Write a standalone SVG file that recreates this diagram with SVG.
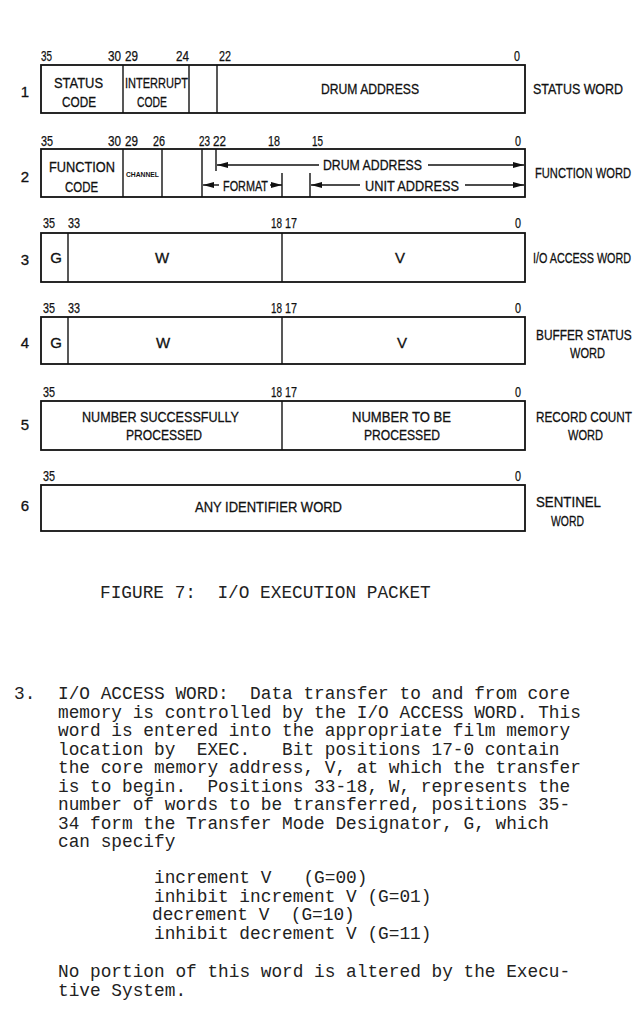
<svg xmlns="http://www.w3.org/2000/svg" width="643" height="1031" viewBox="0 0 643 1031">
<style>
.bg{fill:#fff}
.box{fill:none;stroke:#111;stroke-width:1.8}
.div{stroke:#111;stroke-width:1.4}
.lbl{font-family:"Liberation Sans Narrow","Liberation Sans",Arial,sans-serif;font-size:15px;fill:#111;stroke:#111;stroke-width:0.3}
.num{font-family:"Liberation Sans Narrow","Liberation Sans",Arial,sans-serif;font-size:14px;fill:#111;stroke:#111;stroke-width:0.25}
.mid{text-anchor:middle}
.tiny{font-family:"Liberation Sans",Arial,sans-serif;font-size:7px;font-weight:bold;fill:#111}
.tw{font-family:"Liberation Mono","DejaVu Sans Mono",monospace;font-size:17.8px;fill:#222;white-space:pre}
.arr{stroke:#111;stroke-width:1.4;fill:none;marker-end:url(#ah)}
</style>
<defs>
<marker id="ah" viewBox="0 0 11 6" refX="11" refY="3" markerWidth="11" markerHeight="6" markerUnits="userSpaceOnUse" orient="auto"><path d="M0,0 L11,3 L0,6 z" fill="#111"/></marker>
</defs>
<rect class="bg" x="0" y="0" width="643" height="1031"/>

<g id="row1">
<rect class="box" x="41" y="65" width="484" height="48"/>
<line class="div" x1="123" y1="65" x2="123" y2="113"/>
<line class="div" x1="189" y1="65" x2="189" y2="113"/>
<line class="div" x1="217" y1="65" x2="217" y2="113"/>
<text class="num" x="41" y="61" textLength="11" lengthAdjust="spacingAndGlyphs">35</text>
<text class="num" x="108" y="61" textLength="13" lengthAdjust="spacingAndGlyphs">30</text>
<text class="num" x="125" y="61" textLength="13" lengthAdjust="spacingAndGlyphs">29</text>
<text class="num" x="176" y="61" textLength="13" lengthAdjust="spacingAndGlyphs">24</text>
<text class="num" x="219" y="61" textLength="12" lengthAdjust="spacingAndGlyphs">22</text>
<text class="num" x="514" y="61" textLength="6" lengthAdjust="spacingAndGlyphs">0</text>
<text class="lbl mid" x="25" y="97">1</text>
<text class="lbl" x="54" y="88" textLength="49" lengthAdjust="spacingAndGlyphs">STATUS</text>
<text class="lbl" x="62" y="107" textLength="34" lengthAdjust="spacingAndGlyphs">CODE</text>
<text class="lbl" x="125" y="88" textLength="63" lengthAdjust="spacingAndGlyphs">INTERRUPT</text>
<text class="lbl" x="137" y="107" textLength="30" lengthAdjust="spacingAndGlyphs">CODE</text>
<text class="lbl" x="321" y="94" textLength="98" lengthAdjust="spacingAndGlyphs">DRUM ADDRESS</text>
<text class="lbl" x="533" y="94" textLength="90" lengthAdjust="spacingAndGlyphs">STATUS WORD</text>
</g>

<g id="row2">
<rect class="box" x="41" y="149" width="484" height="48"/>
<line class="div" x1="123" y1="149" x2="123" y2="197"/>
<line class="div" x1="162" y1="149" x2="162" y2="197"/>
<line class="div" x1="202" y1="149" x2="202" y2="197"/>
<line class="div" x1="216" y1="149" x2="216" y2="171"/>
<line class="div" x1="282" y1="173" x2="282" y2="197"/>
<line class="div" x1="310" y1="173" x2="310" y2="197"/>
<text class="num" x="41" y="146" textLength="12" lengthAdjust="spacingAndGlyphs">35</text>
<text class="num" x="108" y="146" textLength="13" lengthAdjust="spacingAndGlyphs">30</text>
<text class="num" x="125" y="146" textLength="13" lengthAdjust="spacingAndGlyphs">29</text>
<text class="num" x="153" y="146" textLength="12" lengthAdjust="spacingAndGlyphs">26</text>
<text class="num" x="199" y="146" textLength="11" lengthAdjust="spacingAndGlyphs">23</text>
<text class="num" x="213" y="146" textLength="13" lengthAdjust="spacingAndGlyphs">22</text>
<text class="num" x="268" y="146" textLength="12" lengthAdjust="spacingAndGlyphs">18</text>
<text class="num" x="312" y="146" textLength="11" lengthAdjust="spacingAndGlyphs">15</text>
<text class="num" x="515" y="146" textLength="6" lengthAdjust="spacingAndGlyphs">0</text>
<text class="lbl mid" x="25" y="182">2</text>
<text class="lbl" x="49" y="172" textLength="66" lengthAdjust="spacingAndGlyphs">FUNCTION</text>
<text class="lbl" x="65" y="192" textLength="33" lengthAdjust="spacingAndGlyphs">CODE</text>
<text class="tiny" x="126" y="177" textLength="33" lengthAdjust="spacingAndGlyphs">CHANNEL</text>
<text class="lbl" x="323" y="170" textLength="99" lengthAdjust="spacingAndGlyphs">DRUM ADDRESS</text>
<text class="lbl" x="223" y="191" textLength="45" lengthAdjust="spacingAndGlyphs">FORMAT</text>
<text class="lbl" x="365" y="191" textLength="94" lengthAdjust="spacingAndGlyphs">UNIT ADDRESS</text>
<text class="lbl" transform="translate(535,178) scale(0.75,1)" x="0" y="0" textLength="128" lengthAdjust="spacingAndGlyphs">FUNCTION WORD</text>
</g>

<g id="connectors">
<line class="arr" x1="319" y1="165" x2="217" y2="165"/>
<line class="arr" x1="428" y1="165" x2="524" y2="165"/>
<line class="arr" x1="219" y1="185" x2="203" y2="185"/>
<line class="arr" x1="270" y1="185" x2="282" y2="185"/>
<line class="arr" x1="360" y1="185" x2="311" y2="185"/>
<line class="arr" x1="465" y1="185" x2="524" y2="185"/>
</g>

<g id="row3">
<rect class="box" x="41" y="233" width="484" height="49"/>
<line class="div" x1="68" y1="233" x2="68" y2="282"/>
<line class="div" x1="282" y1="233" x2="282" y2="282"/>
<text class="num" x="43" y="228" textLength="12" lengthAdjust="spacingAndGlyphs">35</text>
<text class="num" x="68" y="228" textLength="12" lengthAdjust="spacingAndGlyphs">33</text>
<text class="num" x="271" y="228" textLength="11" lengthAdjust="spacingAndGlyphs">18</text>
<text class="num" x="285" y="228" textLength="12" lengthAdjust="spacingAndGlyphs">17</text>
<text class="num" x="515" y="228" textLength="6" lengthAdjust="spacingAndGlyphs">0</text>
<text class="lbl mid" x="25" y="265">3</text>
<text class="lbl mid" x="56" y="263">G</text>
<text class="lbl mid" x="162" y="263">W</text>
<text class="lbl mid" x="400" y="263">V</text>
<text class="lbl" transform="translate(533,263) scale(0.72,1)" x="0" y="0" textLength="136" lengthAdjust="spacingAndGlyphs">I/O ACCESS WORD</text>
</g>

<g id="row4">
<rect class="box" x="41" y="317" width="484" height="47"/>
<line class="div" x1="68" y1="317" x2="68" y2="364"/>
<line class="div" x1="282" y1="317" x2="282" y2="364"/>
<text class="num" x="43" y="313" textLength="12" lengthAdjust="spacingAndGlyphs">35</text>
<text class="num" x="68" y="313" textLength="12" lengthAdjust="spacingAndGlyphs">33</text>
<text class="num" x="271" y="313" textLength="11" lengthAdjust="spacingAndGlyphs">18</text>
<text class="num" x="285" y="313" textLength="12" lengthAdjust="spacingAndGlyphs">17</text>
<text class="num" x="515" y="313" textLength="6" lengthAdjust="spacingAndGlyphs">0</text>
<text class="lbl mid" x="25" y="348">4</text>
<text class="lbl mid" x="56" y="348">G</text>
<text class="lbl mid" x="163" y="348">W</text>
<text class="lbl mid" x="402" y="348">V</text>
<text class="lbl" transform="translate(536,340) scale(0.76,1)" x="0" y="0" textLength="126" lengthAdjust="spacingAndGlyphs">BUFFER STATUS</text>
<text class="lbl" x="570" y="358" textLength="35" lengthAdjust="spacingAndGlyphs">WORD</text>
</g>

<g id="row5">
<rect class="box" x="41" y="401" width="484" height="49"/>
<line class="div" x1="282" y1="401" x2="282" y2="450"/>
<text class="num" x="43" y="397" textLength="12" lengthAdjust="spacingAndGlyphs">35</text>
<text class="num" x="271" y="397" textLength="11" lengthAdjust="spacingAndGlyphs">18</text>
<text class="num" x="285" y="397" textLength="12" lengthAdjust="spacingAndGlyphs">17</text>
<text class="num" x="515" y="397" textLength="6" lengthAdjust="spacingAndGlyphs">0</text>
<text class="lbl mid" x="25" y="430">5</text>
<text class="lbl" x="82" y="422" textLength="157" lengthAdjust="spacingAndGlyphs">NUMBER SUCCESSFULLY</text>
<text class="lbl" x="126" y="440" textLength="76" lengthAdjust="spacingAndGlyphs">PROCESSED</text>
<text class="lbl" x="352" y="422" textLength="99" lengthAdjust="spacingAndGlyphs">NUMBER TO BE</text>
<text class="lbl" x="364" y="440" textLength="76" lengthAdjust="spacingAndGlyphs">PROCESSED</text>
<text class="lbl" transform="translate(536,422) scale(0.78,1)" x="0" y="0" textLength="123" lengthAdjust="spacingAndGlyphs">RECORD COUNT</text>
<text class="lbl" x="568" y="440" textLength="35" lengthAdjust="spacingAndGlyphs">WORD</text>
</g>

<g id="row6">
<rect class="box" x="41" y="485" width="484" height="46"/>
<text class="num" x="43" y="481" textLength="12" lengthAdjust="spacingAndGlyphs">35</text>
<text class="num" x="515" y="481" textLength="6" lengthAdjust="spacingAndGlyphs">0</text>
<text class="lbl mid" x="25" y="511">6</text>
<text class="lbl" x="195" y="512" textLength="147" lengthAdjust="spacingAndGlyphs">ANY IDENTIFIER WORD</text>
<text class="lbl" x="536" y="507" textLength="65" lengthAdjust="spacingAndGlyphs">SENTINEL</text>
<text class="lbl" x="551" y="526" textLength="33" lengthAdjust="spacingAndGlyphs">WORD</text>
</g>

<g id="caption">
<text class="tw" x="100" y="598" xml:space="preserve">FIGURE 7:  I/O EXECUTION PACKET</text>
</g>

<g id="paragraph" xml:space="preserve">
<text class="tw" x="14" y="699">3.</text>
<text class="tw" x="58" y="699">I/O ACCESS WORD:  Data transfer to and from core</text>
<text class="tw" x="58" y="717.5">memory is controlled by the I/O ACCESS WORD. This</text>
<text class="tw" x="58" y="736">word is entered into the appropriate film memory</text>
<text class="tw" x="58" y="754.5">location by  EXEC.   Bit positions 17-0 contain</text>
<text class="tw" x="58" y="773">the core memory address, V, at which the transfer</text>
<text class="tw" x="58" y="791.5">is to begin.  Positions 33-18, W, represents the</text>
<text class="tw" x="58" y="810">number of words to be transferred, positions 35-</text>
<text class="tw" x="58" y="828.5">34 form the Transfer Mode Designator, G, which</text>
<text class="tw" x="58" y="847">can specify</text>
<text class="tw" x="154" y="883">increment V   (G=00)</text>
<text class="tw" x="154" y="901.5">inhibit increment V (G=01)</text>
<text class="tw" x="152" y="920">decrement V  (G=10)</text>
<text class="tw" x="154" y="938.5">inhibit decrement V (G=11)</text>
<text class="tw" x="58" y="977">No portion of this word is altered by the Execu-</text>
<text class="tw" x="58" y="995.5">tive System.</text>
</g>
</svg>
